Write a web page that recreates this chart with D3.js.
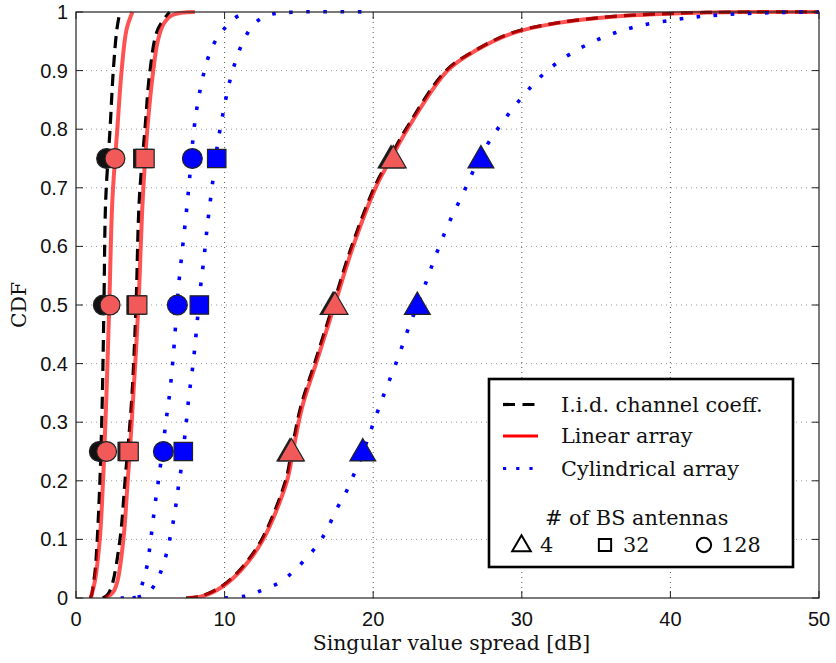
<!DOCTYPE html>
<html><head><meta charset="utf-8">
<script src="https://cdn.jsdelivr.net/npm/d3@7"></script>
<style>html,body{margin:0;padding:0;background:#fff;}svg{display:block;}</style>
</head><body>
<svg id="chart" width="836" height="663"></svg>
<script>
// ---------- data: [dB, CDF] pairs ----------
const iid128 = [[0.95,0],[1.05,0.005],[1.15,0.02],[1.3,0.05],[1.43,0.1],[1.61,0.2],[1.77,0.34],[1.88,0.5],[2.0,0.68],[2.29,0.8],[2.51,0.9],[2.75,0.97],[2.95,1.0]];
const iid32  = [[1.8,0],[2.1,0.005],[2.4,0.02],[2.96,0.1],[3.3,0.2],[3.75,0.34],[4.04,0.5],[4.26,0.68],[4.64,0.8],[4.98,0.9],[5.5,0.97],[6.3,1.0]];
const iid4   = [[7.4,0],[8.4,0.003],[9.8,0.02],[11.1,0.05],[12.5,0.1],[14.1,0.2],[14.5,0.25],[15.1,0.324],[16.05,0.4],[17.3,0.5],[18.56,0.601],[20.1,0.702],[21.1,0.75],[22.2,0.8],[24.9,0.9],[26.9,0.935],[29.3,0.964],[32.3,0.981],[36.0,0.992],[40.6,0.998],[45,1.0],[50,1.0]];
const lin128 = [[1.0,0],[1.1,0.01],[1.28,0.03],[1.6,0.1],[1.82,0.2],[1.98,0.3],[2.04,0.34],[2.24,0.5],[2.45,0.68],[2.78,0.8],[3.07,0.9],[3.4,0.97],[3.8,1.0]];
const lin32  = [[2.0,0],[2.5,0.01],[2.8,0.03],[3.19,0.1],[3.48,0.2],[3.75,0.3],[4.2,0.5],[4.49,0.68],[4.8,0.8],[5.2,0.9],[5.5,0.95],[5.9,0.98],[6.5,0.995],[8.0,1.0]];
const lin4   = [[7.5,0],[8.5,0.003],[9.9,0.02],[11.2,0.05],[12.6,0.1],[14.2,0.2],[14.6,0.25],[15.2,0.324],[16.15,0.4],[17.4,0.5],[18.66,0.601],[20.2,0.702],[21.2,0.75],[22.3,0.8],[25.0,0.9],[26.96,0.935],[29.4,0.964],[32.35,0.981],[36.1,0.992],[40.6,0.998],[45,1.0],[50,1.0]];
const cyl128 = [[3.8,0],[4.13,0.003],[4.53,0.03],[4.82,0.06],[4.98,0.09],[5.13,0.12],[5.27,0.15],[5.43,0.18],[5.6,0.21],[5.85,0.26],[6.1,0.31],[6.33,0.355],[6.55,0.415],[6.73,0.474],[6.91,0.534],[7.15,0.593],[7.4,0.652],[7.63,0.712],[7.94,0.8],[8.3,0.86],[8.84,0.918],[9.3,0.947],[9.9,0.969],[10.7,0.99],[11.5,1.0]];
const cyl32  = [[3.0,0],[4.08,0.001],[4.93,0.011],[5.54,0.035],[6.06,0.073],[6.33,0.103],[6.55,0.131],[6.73,0.16],[6.89,0.19],[7.07,0.22],[7.34,0.28],[7.6,0.344],[7.89,0.402],[8.12,0.461],[8.34,0.521],[8.61,0.58],[8.86,0.64],[9.15,0.7],[9.5,0.77],[9.9,0.828],[10.4,0.887],[11.15,0.944],[12.0,0.98],[13.0,0.995],[15.0,1.0],[20,1.0]];
const cyl4   = [[10.0,0],[11.3,0.003],[12.3,0.011],[13.8,0.028],[14.7,0.047],[15.5,0.068],[16.3,0.092],[16.9,0.117],[17.5,0.15],[18.1,0.177],[18.6,0.205],[19.1,0.234],[19.85,0.287],[20.7,0.346],[21.6,0.405],[22.4,0.462],[23.4,0.528],[24.2,0.584],[25.1,0.64],[26.1,0.693],[27.2,0.753],[28.5,0.805],[30.0,0.854],[31.45,0.894],[33.3,0.929],[35.5,0.957],[37.7,0.975],[40.6,0.988],[43.3,0.995],[47,0.999],[50,1.0]];

// markers at CDF = 0.25, 0.5, 0.75
const markerLevels = [0.25, 0.5, 0.75];
const iidMarkers = {tri:[14.4,17.3,21.2], sq:[3.45,4.05,4.5], circ:[1.57,1.84,2.06]};
const linMarkers = {tri:[14.5,17.43,21.35], sq:[3.57,4.15,4.64], circ:[2.06,2.29,2.62]};
const cylMarkers = {tri:[19.3,22.97,27.25], sq:[7.22,8.3,9.47], circ:[5.88,6.82,7.83]};

const xTicks = [0,10,20,30,40,50];
const yTicks = [0,0.1,0.2,0.3,0.4,0.5,0.6,0.7,0.8,0.9,1];
const yTickLabels = ["0","0.1","0.2","0.3","0.4","0.5","0.6","0.7","0.8","0.9","1"];
const legendLabels = ["I.i.d. channel coeff.","Linear array","Cylindrical array"];
const legendTitle = "# of BS antennas";
const antennaLabels = ["4","32","128"];
const xLabel = "Singular value spread [dB]";
const yLabel = "CDF";

// ---------- layout ----------
const L = 76, R = 819, T = 12, B = 598;
const svg = d3.select("#chart");
const x = d3.scaleLinear().domain([0,50]).range([L,R]);
const y = d3.scaleLinear().domain([0,1]).range([B,T]);

svg.append("defs").append("clipPath").attr("id","clip")
  .append("rect").attr("x",L).attr("y",T-2).attr("width",R-L).attr("height",B-T+2);

// grid
const grid = svg.append("g");
grid.selectAll(".gx").data(xTicks.slice(1,-1)).enter().append("line")
  .attr("x1",d=>x(d)).attr("x2",d=>x(d)).attr("y1",T).attr("y2",B)
  .attr("stroke","#555").attr("stroke-width",1).attr("stroke-dasharray","1,4");
grid.selectAll(".gy").data(yTicks.slice(1,-1)).enter().append("line")
  .attr("x1",L).attr("x2",R).attr("y1",d=>y(d)).attr("y2",d=>y(d))
  .attr("stroke","#999").attr("stroke-width",1).attr("stroke-dasharray","1,4");

const line = d3.line().x(d=>x(d[0])).y(d=>y(d[1])).curve(d3.curveCatmullRom.alpha(0.5));
const plot = svg.append("g").attr("clip-path","url(#clip)");

[iid128, iid32, iid4].forEach(c=>{
  plot.append("path").attr("d",line(c)).attr("fill","none")
    .attr("stroke","#000").attr("stroke-width",3.2).attr("stroke-dasharray","12,7");
});
[lin128, lin32, lin4].forEach(c=>{
  plot.append("path").attr("d",line(c)).attr("fill","none")
    .attr("stroke","#ff0000").attr("stroke-opacity",0.68).attr("stroke-width",4);
});
[cyl128, cyl32, cyl4].forEach(c=>{
  plot.append("path").attr("d",line(c)).attr("fill","none")
    .attr("stroke","#0000ff").attr("stroke-width",3.6).attr("stroke-dasharray","3.6,13.5");
});

// markers
const sym = {
  tri: d3.symbol().type(d3.symbolTriangle).size(290),
  sq: d3.symbol().type(d3.symbolSquare).size(340),
  circ: d3.symbol().type(d3.symbolCircle).size(310)
};
function drawMarkers(set, fill){
  ["tri","sq","circ"].forEach(k=>{
    set[k].forEach((v,i)=>{
      svg.append("path").attr("d",sym[k]())
        .attr("transform",`translate(${x(v)},${y(markerLevels[i]) + (k==="tri"?2:0)})`)
        .attr("fill",fill).attr("stroke","#222").attr("stroke-width",1.2);
    });
  });
}
drawMarkers(iidMarkers,"#111");
drawMarkers(linMarkers,"#f25a5a");
drawMarkers(cylMarkers,"#0000ff");

// axes box
svg.append("rect").attr("x",L).attr("y",T).attr("width",R-L).attr("height",B-T)
  .attr("fill","none").attr("stroke","#222").attr("stroke-width",1.2);
const tk = svg.append("g").attr("stroke","#222").attr("stroke-width",1);
xTicks.forEach(v=>{
  tk.append("line").attr("x1",x(v)).attr("x2",x(v)).attr("y1",B).attr("y2",B-7);
  tk.append("line").attr("x1",x(v)).attr("x2",x(v)).attr("y1",T).attr("y2",T+7);
});
yTicks.forEach(v=>{
  tk.append("line").attr("x1",L).attr("x2",L+7).attr("y1",y(v)).attr("y2",y(v));
  tk.append("line").attr("x1",R).attr("x2",R-7).attr("y1",y(v)).attr("y2",y(v));
});

const sans = "'Liberation Sans', Arial, Helvetica, sans-serif";
const serif = "'DejaVu Serif', serif";
svg.append("g").selectAll("text").data(xTicks).enter().append("text")
  .attr("x",d=>x(d)).attr("y",626).attr("text-anchor","middle")
  .attr("font-family",sans).attr("font-size",20).attr("fill","#111").text(d=>d);
svg.append("g").selectAll("text").data(yTicks).enter().append("text")
  .attr("x",68).attr("y",d=>y(d)+7).attr("text-anchor","end")
  .attr("font-family",sans).attr("font-size",20).attr("fill","#111").text((d,i)=>yTickLabels[i]);

svg.append("text").attr("x",(L+R)/2+4).attr("y",650).attr("text-anchor","middle")
  .attr("font-family",serif).attr("font-size",20.4).attr("fill","#111").text(xLabel);
svg.append("text").attr("transform",`translate(26,${(T+B)/2}) rotate(-90)`).attr("text-anchor","middle")
  .attr("font-family",serif).attr("font-size",20.4).attr("fill","#111").text(yLabel);

// legend
const lg = svg.append("g");
lg.append("rect").attr("x",489).attr("y",379).attr("width",304).attr("height",188)
  .attr("fill","#fff").attr("stroke","#000").attr("stroke-width",2.6);
const rowsY = [404.5, 436, 468.5];
const lstyles = [
  {stroke:"#000", w:3.2, dash:"12,7.5"},
  {stroke:"#ff0000", w:3, dash:null},
  {stroke:"#0000ff", w:3.2, dash:"3.2,10"}
];
rowsY.forEach((ry,i)=>{
  const s = lstyles[i];
  const ln = lg.append("line").attr("x1",503).attr("x2",538).attr("y1",ry).attr("y2",ry)
    .attr("stroke",s.stroke).attr("stroke-width",s.w);
  if (s.dash) ln.attr("stroke-dasharray",s.dash);
  lg.append("text").attr("x",561).attr("y",ry+7).attr("font-family",serif).attr("font-size",20.8)
    .attr("fill","#111").text(legendLabels[i]);
});
lg.append("text").attr("x",545).attr("y",525).attr("font-family",serif).attr("font-size",20.8)
  .attr("fill","#111").text(legendTitle);
const legSym = [
  {t:d3.symbolTriangle, s:150, cx:521.5, lx:540},
  {t:d3.symbolSquare, s:150, cx:605, lx:623},
  {t:d3.symbolCircle, s:160, cx:704, lx:721}
];
legSym.forEach((m,i)=>{
  lg.append("path").attr("d",d3.symbol().type(m.t).size(m.s)())
    .attr("transform",`translate(${m.cx},${i===0?546:545})`)
    .attr("fill","none").attr("stroke","#000").attr("stroke-width",2);
  lg.append("text").attr("x",m.lx).attr("y",552).attr("font-family",serif).attr("font-size",20.8)
    .attr("fill","#111").text(antennaLabels[i]);
});
</script>
</body></html>
